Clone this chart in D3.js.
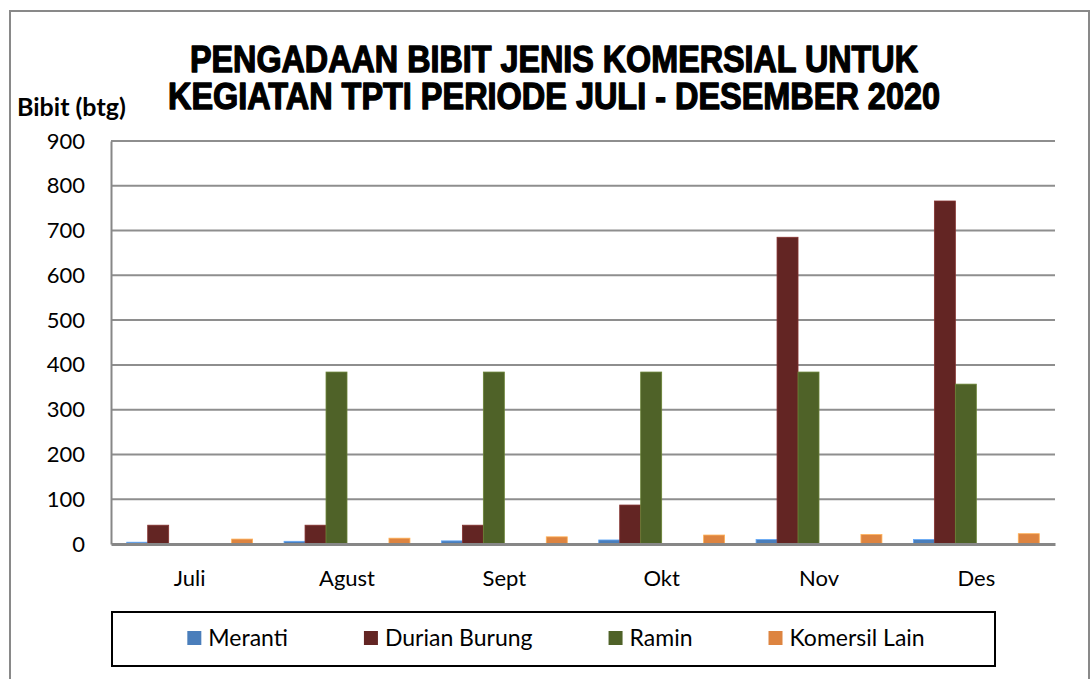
<!DOCTYPE html>
<html>
<head>
  <meta charset="utf-8">
  <title>Pengadaan Bibit Jenis Komersial</title>
  <script src="https://d3js.org/d3.v7.min.js"></script>
  <style>
    body { margin: 0; background: #fff; }
  </style>
</head>
<body>
<script>

var months = ["Juli", "Agust", "Sept", "Okt", "Nov", "Des"];
var seriesNames = ["Meranti", "Durian Burung", "Ramin", "Komersil Lain"];
var seriesColors = ["#4a7ebb", "#632523", "#4f6228", "#dd8440"];
// excel chart keeps two empty series between Ramin and Komersil Lain
var slots = ["Meranti", "Durian Burung", "Ramin", "kosong1", "kosong2", "Komersil Lain"];

var meranti = [4, 6, 7, 9, 10, 10];
var durianBurung = [42, 42, 42, 87, 685, 766];
var ramin = [0, 384, 384, 384, 384, 357];
var komersilLain = [11, 13, 16, 20, 21, 23];

var yTicks = [0, 100, 200, 300, 400, 500, 600, 700, 800, 900];

var seriesValues = [meranti, durianBurung, ramin, komersilLain];

var width = 1091, height = 679;
var font = "Lato, 'Open Sans', sans-serif";

var svg = d3.select("body").append("svg")
    .attr("width", width)
    .attr("height", height);

// outer chart border
svg.append("rect")
    .attr("x", 10).attr("y", 11)
    .attr("width", 1079).attr("height", 700)
    .attr("fill", "#fff")
    .attr("stroke", "#898989")
    .attr("stroke-width", 2);

var plot = { left: 111, right: 1055, top: 141, bottom: 544 };

var x0 = d3.scaleBand()
    .domain(months)
    .range([plot.left, plot.right]);

var x1 = d3.scaleBand()
    .domain(slots)
    .range([0, x0.bandwidth()])
    .paddingOuter(0.75);

var y = d3.scaleLinear()
    .domain([0, 900])
    .range([plot.bottom, plot.top]);

// gridlines
svg.append("g")
  .selectAll("line")
  .data(yTicks.filter(function(d) { return d > 0; }))
  .join("line")
    .attr("x1", plot.left).attr("x2", plot.right)
    .attr("y1", function(d) { return y(d); })
    .attr("y2", function(d) { return y(d); })
    .attr("stroke", "#8e8e8e")
    .attr("stroke-width", 2);

// y axis
var yAxis = svg.append("g")
    .attr("transform", "translate(" + plot.left + ",0)")
    .call(d3.axisLeft(y).tickValues(yTicks).tickSize(0).tickPadding(26));
yAxis.select(".domain").attr("stroke", "#878787").attr("stroke-width", 2);
yAxis.selectAll("text")
    .attr("fill", "#000")
    .style("font-family", font)
    .style("font-size", "22px");

// bars
var rows = months.map(function(m, i) {
  return { month: m, values: seriesNames.map(function(s, j) {
    return { name: s, value: seriesValues[j][i], color: seriesColors[j] };
  }) };
});

svg.append("g")
  .selectAll("g")
  .data(rows)
  .join("g")
    .attr("transform", function(d) { return "translate(" + x0(d.month) + ",0)"; })
  .selectAll("rect")
  .data(function(d) { return d.values.filter(function(v) { return v.value > 0; }); })
  .join("rect")
    .attr("x", function(d) { return x1(d.name); })
    .attr("width", x1.bandwidth())
    .attr("y", function(d) { return y(d.value); })
    .attr("height", function(d) { return plot.bottom - y(d.value); })
    .attr("fill", function(d) { return d.color; })
    .attr("stroke", function(d) { return d3.color(d.color).brighter(0.8); })
    .attr("stroke-width", 0.8);

// x axis
var xAxis = svg.append("g")
    .attr("transform", "translate(0," + plot.bottom + ")")
    .call(d3.axisBottom(x0).tickSize(0).tickPadding(26));
xAxis.select(".domain").attr("stroke", "#878787").attr("stroke-width", 3);
xAxis.selectAll("text")
    .attr("fill", "#000")
    .style("font-family", font)
    .style("font-size", "22px");

// title
var titleLines = ["PENGADAAN BIBIT JENIS KOMERSIAL UNTUK", "KEGIATAN TPTI PERIODE JULI - DESEMBER 2020"];
var titleLens = [728, 772];
svg.append("g")
  .selectAll("text")
  .data(titleLines)
  .join("text")
    .attr("x", 554)
    .attr("y", function(d, i) { return 72 + i * 37; })
    .attr("text-anchor", "middle")
    .attr("textLength", function(d, i) { return titleLens[i]; })
    .attr("lengthAdjust", "spacingAndGlyphs")
    .attr("stroke", "#000")
    .attr("stroke-width", 1.3)
    .attr("stroke-linejoin", "round")
    .style("font-family", "'Liberation Sans', Arial, sans-serif")
    .style("font-weight", "bold")
    .style("font-size", "36px")
    .text(function(d) { return d; });

svg.append("text")
    .attr("x", 17)
    .attr("y", 116)
    .style("font-family", font)
    .style("font-weight", "bold")
    .style("font-size", "25px")
    .text("Bibit (btg)");

// legend
svg.append("rect")
    .attr("x", 112).attr("y", 612)
    .attr("width", 883).attr("height", 54)
    .attr("fill", "#fff")
    .attr("stroke", "#000")
    .attr("stroke-width", 2);

var legend = svg.append("g");
var items = legend.selectAll("g")
  .data(seriesNames)
  .join("g");
items.append("rect")
    .attr("width", 14).attr("height", 14)
    .attr("y", 631)
    .attr("fill", function(d, i) { return seriesColors[i]; });
items.append("text")
    .attr("x", 21)
    .attr("y", 646)
    .style("font-family", font)
    .style("font-size", "23px")
    .text(function(d) { return d; });

var gap = 76, cursor = 0, offsets = [];
items.each(function() {
  offsets.push(cursor);
  cursor += 21 + this.querySelector("text").getComputedTextLength() + gap;
});
var total = cursor - gap;
var startX = 556 - total / 2;
items.attr("transform", function(d, i) { return "translate(" + (startX + offsets[i]) + ",0)"; });

</script>
</body>
</html>
